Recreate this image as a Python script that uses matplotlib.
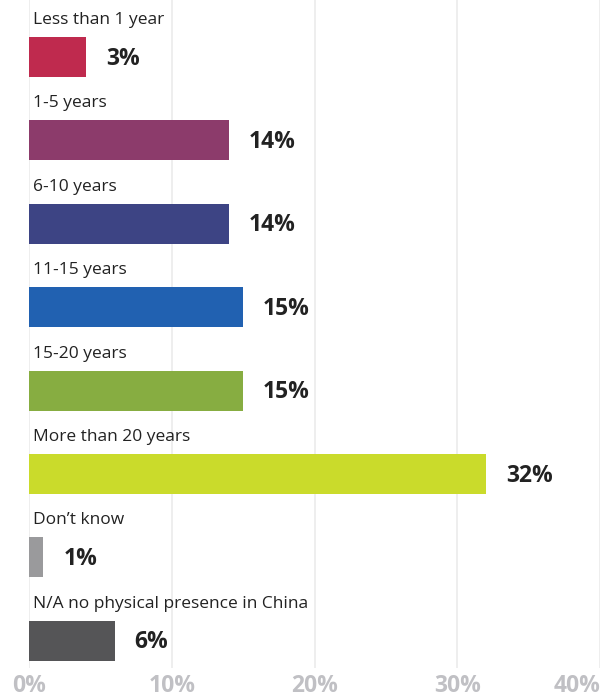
import matplotlib
matplotlib.use("Agg")
import matplotlib.pyplot as plt

categories = ["Less than 1 year", "1-5 years", "6-10 years", "11-15 years",
              "15-20 years", "More than 20 years", "Don\u2019t know",
              "N/A no physical presence in China"]
bar_values = [4, 14, 14, 15, 15, 32, 1, 6]
value_labels = ["3%", "14%", "14%", "15%", "15%", "32%", "1%", "6%"]
colors = ["#bf2a4e", "#8c3b6b", "#3d4484", "#2161b1", "#87ad41",
          "#cadb2b", "#9a9a9c", "#555557"]
xticks = [0, 10, 20, 30, 40]
xtick_labels = ["0%", "10%", "20%", "30%", "40%"]

plt.rcParams['font.family'] = ['Open Sans', 'DejaVu Sans']

W, H = 601, 698
fig = plt.figure(figsize=(W / 100, H / 100), dpi=100)
ax_left, ax_right = 29, 600
ax_top, ax_bottom = 0, 668
ax = fig.add_axes([ax_left / W, 1 - ax_bottom / H, (ax_right - ax_left) / W,
                   (ax_bottom - ax_top) / H])

step = 83.4
first = 57
ypos = list(range(len(categories)))
ax.barh(ypos, bar_values, height=40 / step, color=colors, zorder=3)

ax.set_xlim(0, 40)
ax.set_ylim((ax_bottom - first) / step, -first / step)

for i, (cat, v, lab) in enumerate(zip(categories, bar_values, value_labels)):
    ax.text(0.3, i - 37 / step, cat, fontsize=12.5, color="#222222",
            va="center", ha="left")
    ax.text(v + 1.4, i + 0.02, lab, fontsize=16.5, fontweight="bold",
            color="#222222", va="center", ha="left")

ax.set_xticks(xticks)
ax.set_xticklabels(xtick_labels)
for t in ax.get_xticklabels():
    t.set_color("#c0c0c4")
    t.set_fontsize(16.5)
    t.set_fontweight("bold")
ax.get_xticklabels()[-1].set_horizontalalignment("right")
ax.tick_params(axis="x", length=0, pad=4)
ax.set_yticks([])
ax.grid(axis="x", color="#ebebeb", linewidth=1.2, zorder=0)
for s in ax.spines.values():
    s.set_visible(False)

fig.savefig("out.png", dpi=100)
